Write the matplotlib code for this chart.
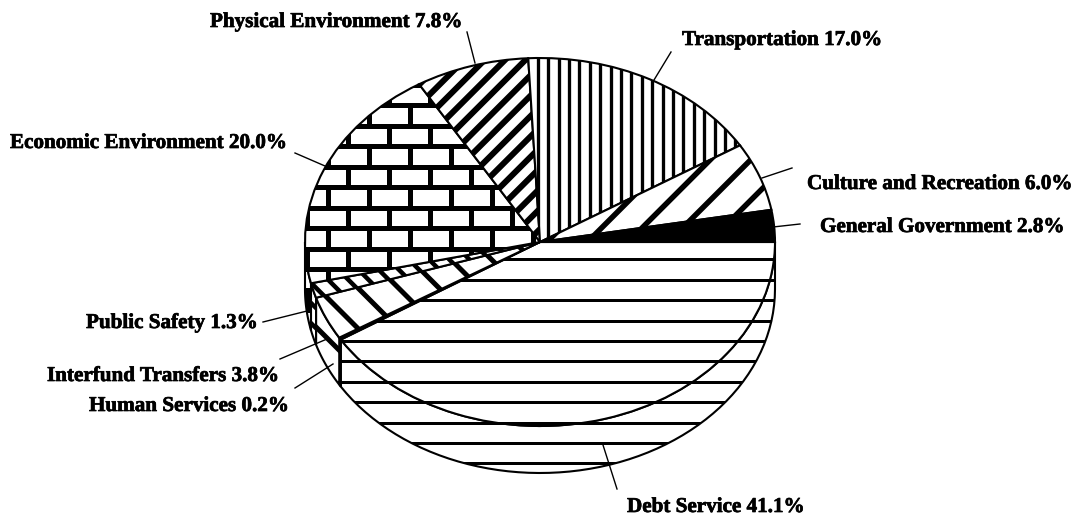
import numpy as np
import matplotlib
matplotlib.use('Agg')
import matplotlib.pyplot as plt
import matplotlib.patheffects as pe
from matplotlib.collections import LineCollection
from matplotlib.patches import Polygon
from matplotlib.transforms import Affine2D

W, H = 1075, 516

names = ['Debt Service', 'Human Services', 'Interfund Transfers', 'Public Safety',
         'Economic Environment', 'Physical Environment', 'Transportation',
         'Culture and Recreation', 'General Government']
shares = [41.1, 0.2, 3.8, 1.3, 20.0, 7.8, 17.0, 6.0, 2.8]

# hatch per slice: kind, spacing, phase, line width (all in pixels)
hatches = [('h', 20.4, 239.0, 3.0),
           ('solid', 0, 0, 0),
           ('back', 40.5, 19.0, 5.0),
           ('back', 20.2, 19.0, 4.5),
           ('brick', 20.5, 105.0, 5.0),
           ('fore', 20.4, 565.0, 6.0),
           ('v', 10.4, 537.7, 3.3),
           ('fore', 40.5, 870.0, 5.5),
           ('solid', 0, 0, 0)]

# label text: left x, centre y / leader line from, to
labels = [(627, 507, (603, 445), (617, 489)),
          (89, 406, (333, 364), (295, 388)),
          (47, 376, (327, 339), (280, 359)),
          (86, 323, (307, 311), (263, 322)),
          (10, 143, (325, 166), (295, 153)),
          (210, 22, (475, 63), (467, 32)),
          (682, 40, (654, 80), (671, 52)),
          (807, 184, (762, 178), (792, 168)),
          (820, 227, (773, 227), (800, 224))]

cx, cy = 540, 242
rx, ry = 235, 184
depth = 47 / ry

plt.rcParams['font.family'] = ['Liberation Serif', 'DejaVu Serif']
fig = plt.figure(figsize=(W / 100, H / 100), dpi=100)
ax = fig.add_axes([0, 0, 1, 1])
wedges, _ = ax.pie(shares, startangle=0, counterclock=False, radius=1,
                   wedgeprops=dict(facecolor='white', edgecolor='black', linewidth=1.5))
ax.set_aspect('auto')
ax.set_xlim(-cx / rx, (W - cx) / rx)
ax.set_ylim((cy - H) / ry, cy / ry)

# image pixel coords, y going down
to_px = Affine2D().scale(1, -1).translate(0, H)


def add_hatch(patch, kind, step, phase, lw, z):
    segs = []
    if kind == 'h':
        for y in np.arange(phase % step, H, step):
            segs.append([(0, y), (W, y)])
    elif kind == 'v':
        for x in np.arange(phase % step, W, step):
            segs.append([(x, 0), (x, H)])
    elif kind == 'fore':
        for c in np.arange(phase % step, W + H, step):
            segs.append([(c, 0), (c - H, H)])
    elif kind == 'back':
        for c in np.arange(phase % step - H - step, W, step):
            segs.append([(c, 0), (c + H, H)])
    elif kind == 'brick':
        rows = np.arange(phase % step, H, step)
        for i, y in enumerate(rows):
            segs.append([(0, y), (W, y)])
            off = 328 if i % 2 == 1 else 348
            for x in np.arange(off % 41, W, 41):
                segs.append([(x, y), (x, y + step)])
    lc = LineCollection(segs, colors='black', linewidths=lw * 0.72, transform=to_px,
                        zorder=z, capstyle='butt')
    ax.add_collection(lc, autolim=False)
    lc.set_clip_path(patch)


# side wall under the front half of the pie
start = 0.0
for share, wedge, (kind, step, phase, lw) in zip(shares, wedges, hatches):
    end = start + share * 3.6
    a, b = start, min(end, 180.0)
    if a < 180:
        t = np.radians(np.linspace(a, b, 60))
        top = np.column_stack([np.cos(t), -np.sin(t)])
        bot = np.column_stack([np.cos(t[::-1]), -np.sin(t[::-1]) - depth])
        fc = 'black' if kind == 'solid' else 'white'
        wall = Polygon(np.vstack([top, bot]), closed=True, facecolor=fc, edgecolor='black',
                       linewidth=1.5, zorder=1)
        ax.add_patch(wall)
        if kind != 'solid':
            add_hatch(wall, kind, step, phase, lw, 2)
    wedge.set_zorder(3)
    if kind == 'solid':
        wedge.set_facecolor('black')
    else:
        add_hatch(wedge, kind, step, phase, lw, 4)
    start = end

for name, share, (x, y, p0, p1) in zip(names, shares, labels):
    ax.text(x, y, f'{name} {share:.1f}%', transform=to_px, fontsize=15.2, fontweight='bold',
            ha='left', va='center', color='black',
            path_effects=[pe.withStroke(linewidth=0.5, foreground='black')])
    ax.plot([p0[0], p1[0]], [p0[1], p1[1]], color='black', lw=1.0, transform=to_px, zorder=6)

fig.savefig('out.png', dpi=100)
